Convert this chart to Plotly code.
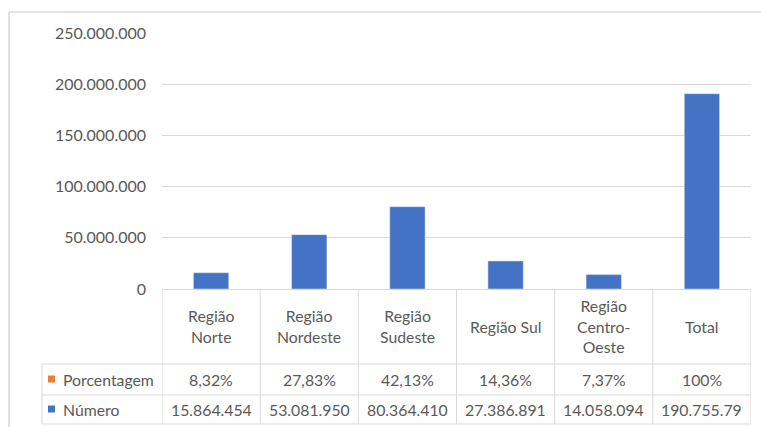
import plotly.graph_objects as go

categories = ["Região Norte", "Região Nordeste", "Região Sudeste", "Região Sul", "Região Centro-Oeste", "Total"]
header_labels = ["Região<br>Norte", "Região<br>Nordeste", "Região<br>Sudeste", "Região Sul", "Região<br>Centro-<br>Oeste", "Total"]
numero = [15864454, 53081950, 80364410, 27386891, 14058094, 190755790]
numero_text = ["15.864.454", "53.081.950", "80.364.410", "27.386.891", "14.058.094", "190.755.79"]
porcentagem_text = ["8,32%", "27,83%", "42,13%", "14,36%", "7,37%", "100%"]
series_names = ["Porcentagem", "Número"]
tick_vals = [0, 50000000, 100000000, 150000000, 200000000, 250000000]
tick_text = ["0", "50.000.000", "100.000.000", "150.000.000", "200.000.000", "250.000.000"]

W, H = 761, 427
BLUE = "#4472C4"
ORANGE = "#ED7D31"
TXT = "#595959"
LINE = "#D9D9D9"
FONT = "Lato"
FS = 15.8

def px(x):
    return x / W

def py(y):
    return 1 - y / H

fig = go.Figure()
fig.add_trace(go.Bar(x=categories, y=numero, marker_color=BLUE, width=0.36,
                     name=series_names[1], showlegend=False))

shapes = []
annotations = []
n = len(categories)
for i in range(n + 1):
    shapes.append(dict(type="line", xref="x", yref="paper", x0=i - 0.5, x1=i - 0.5,
                       y0=py(289), y1=py(424), line=dict(color=LINE, width=1)))
for yy in [364, 395, 424]:
    shapes.append(dict(type="line", xref="paper", yref="paper", x0=px(42), x1=px(751),
                       y0=py(yy), y1=py(yy), line=dict(color=LINE, width=1)))
shapes.append(dict(type="line", xref="paper", yref="paper", x0=px(42), x1=px(42),
                   y0=py(364), y1=py(424), line=dict(color=LINE, width=1)))
shapes.append(dict(type="line", xref="paper", yref="paper", x0=px(9), x1=px(9),
                   y0=py(12), y1=py(427), line=dict(color=LINE, width=1.5)))
shapes.append(dict(type="line", xref="paper", yref="paper", x0=px(9), x1=px(761),
                   y0=py(12), y1=py(12), line=dict(color=LINE, width=1.5)))
for yc, col in [(379, ORANGE), (409, BLUE)]:
    shapes.append(dict(type="rect", xref="paper", yref="paper", x0=px(48), x1=px(55),
                       y0=py(yc - 3.5), y1=py(yc + 3.5), line=dict(width=0), fillcolor=col))

for i, cat in enumerate(categories):
    annotations.append(dict(x=cat, xref="x", y=py(326), yref="paper", text=header_labels[i],
                            showarrow=False, xanchor="center", yanchor="middle",
                            font=dict(family=FONT, size=FS, color=TXT)))
    annotations.append(dict(x=cat, xref="x", y=py(379), yref="paper", text=porcentagem_text[i],
                            showarrow=False, xanchor="center", yanchor="middle",
                            font=dict(family=FONT, size=FS, color=TXT)))
    annotations.append(dict(x=cat, xref="x", y=py(409), yref="paper", text=numero_text[i],
                            showarrow=False, xanchor="center", yanchor="middle",
                            font=dict(family=FONT, size=FS, color=TXT)))
for yc, name in [(379, series_names[0]), (409, series_names[1])]:
    annotations.append(dict(x=px(61), xref="paper", y=py(yc), yref="paper", text=name,
                            showarrow=False, xanchor="left", yanchor="middle",
                            font=dict(family=FONT, size=FS, color=TXT)))

fig.update_layout(
    autosize=False,
    width=W, height=H,
    margin=dict(l=0, r=0, t=0, b=0, pad=0, autoexpand=False),
    paper_bgcolor="white", plot_bgcolor="white",
    showlegend=False,
    shapes=shapes, annotations=annotations,
    font=dict(family=FONT, size=FS, color=TXT),
    xaxis=dict(domain=[px(162), px(751)], range=[-0.5, n - 0.5], showticklabels=False,
               showgrid=False, zeroline=False, showline=True, linecolor=LINE, linewidth=1,
               ticks="", fixedrange=True),
    yaxis=dict(domain=[py(289), py(33)], range=[0, 250000000], tickvals=tick_vals,
               ticktext=tick_text, showgrid=True, gridcolor=LINE, gridwidth=1,
               zeroline=False, showline=False, ticks="", ticklabelstandoff=15,
               tickfont=dict(family=FONT, size=16, color=TXT), automargin=False),
    bargap=0.64,
)

fig.write_html("out.html")
